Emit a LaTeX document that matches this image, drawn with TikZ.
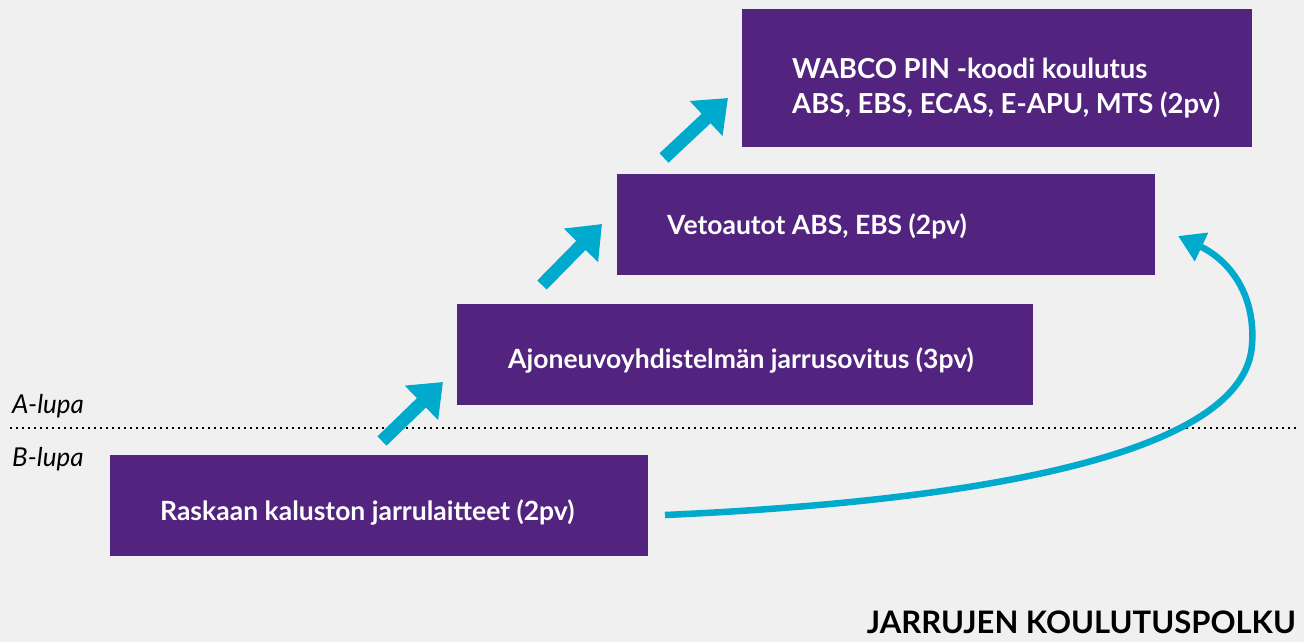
\documentclass[tikz,border=0pt]{standalone}
\usepackage{fontspec}
\setmainfont{Lato}
\usetikzlibrary{arrows.meta}
\definecolor{bg}{HTML}{F0F0F0}
\definecolor{purp}{HTML}{52247F}
\definecolor{cyanx}{HTML}{00AACC}
\tikzset{
  box/.style={fill=purp, draw=none, minimum height=#1, inner sep=0pt, anchor=north west},
  boxtext/.style={text=white, font=\fontsize{26.5}{35}\selectfont\bfseries, align=left, anchor=west, inner sep=0pt},
  stepArrow/.style={cyanx, line width=13pt, -{Triangle[length=30pt,width=46pt]}},
  lupa/.style={font=\fontsize{26}{28}\selectfont\itshape, anchor=west, inner sep=0pt},
}
\begin{document}
\begin{tikzpicture}[x=1pt,y=-1pt]
\fill[bg] (0,0) rectangle (1304,642);
\useasboundingbox (0,0) rectangle (1304,642);
% boxes
\node[box=101pt, minimum width=538pt] (b1) at (110,455) {};
\node[box=101pt, minimum width=576pt] (b2) at (457,304) {};
\node[box=101pt, minimum width=538pt] (b3) at (617,174) {};
\node[box=138pt, minimum width=510pt] (b4) at (742,9) {};
\node[boxtext] (t1) at (160,512) {Raskaan kaluston jarrulaitteet (2pv)};
\node[boxtext] (t2) at (508,360) {Ajoneuvoyhdistelmän jarrusovitus (3pv)};
\node[boxtext] (t3) at (667,226) {Vetoautot ABS, EBS (2pv)};
\node[boxtext, font=\fontsize{27.5}{35}\selectfont\bfseries] (t4) at (792,88) {WABCO PIN -koodi koulutus\\ABS, EBS, ECAS, E-APU, MTS (2pv)};
% dotted separator
\coordinate (dl) at (10,428);
\coordinate (dr) at (1296,428);
\draw[black, line width=2pt, dash pattern=on 2pt off 4pt] (dl) -- (dr);
\node[lupa] (la) at (12,406) {A-lupa};
\node[lupa] (lb) at (12,459) {B-lupa};
% step arrows
\coordinate (a1s) at (382,441);
\coordinate (a1e) at (443,382);
\coordinate (a2s) at (542,285);
\coordinate (a2e) at (602,224);
\coordinate (a3s) at (664,158);
\coordinate (a3e) at (728,98);
\draw[stepArrow] (a1s) -- (a1e);
\draw[stepArrow] (a2s) -- (a2e);
\draw[stepArrow] (a3s) -- (a3e);
% curved arrow
\coordinate (cs) at (665,515);
\coordinate (cm) at (1252,345);
\coordinate (ce) at (1178,236);
\draw[cyanx, line width=6.5pt, -{Triangle[length=26pt,width=30pt]}]
  (cs) .. controls (1000,500) and (1245,450) .. (cm)
       .. controls (1256,290) and (1225,258) .. (ce);
% title
\node[font=\fontsize{31}{33}\selectfont\bfseries, anchor=base east, inner sep=0pt] (title) at (1296,633) {JARRUJEN KOULUTUSPOLKU};
\end{tikzpicture}
\end{document}
